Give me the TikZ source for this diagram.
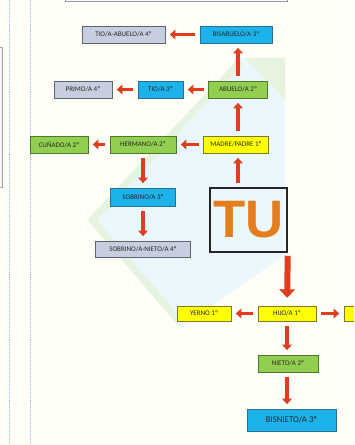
\documentclass[tikz,border=0pt]{standalone}
\usepackage{fontspec}
\usepackage{xcolor}
\usepackage{tikz}
\usetikzlibrary{arrows.meta,positioning}

\newfontfamily\boxfont{Carlito}
\newfontfamily\tufont{Liberation Sans}

\definecolor{grisfill}{HTML}{C6CEE0}
\definecolor{grisline}{HTML}{5E6470}
\definecolor{azulfill}{HTML}{1CB2EA}
\definecolor{azulline}{HTML}{2A6E96}
\definecolor{verdefill}{HTML}{92CF50}
\definecolor{verdeline}{HTML}{4C7A26}
\definecolor{amarfill}{HTML}{FFFF00}
\definecolor{amarline}{HTML}{7C7A2A}
\definecolor{flecha}{HTML}{E03C1E}
\definecolor{tunaranja}{HTML}{E67D1C}
\definecolor{wmcyan}{HTML}{EAF7FC}
\definecolor{wmverde}{HTML}{E6F4DF}
\definecolor{puntos}{HTML}{9DB9D8}

\begin{document}
\begin{tikzpicture}[
x=0.05cm, y=-0.05cm,
box/.style={draw, line width=0.7pt, inner sep=0pt, minimum height=8.5mm, align=center, font=\boxfont\fontsize{10}{11}\selectfont, text=black!85},
gris/.style={box, fill=grisfill, draw=grisline},
azul/.style={box, fill=azulfill, draw=azulline},
verde/.style={box, fill=verdefill, draw=verdeline},
amar/.style={box, fill=amarfill, draw=amarline},
arr/.style={-{Triangle[width=14pt,length=8pt]}, line width=5pt, draw=flecha, fill=flecha, shorten <=2.3mm, shorten >=2.3mm},
bigarr/.style={-{Triangle[width=22pt,length=12pt]}, line width=8.5pt, draw=flecha, fill=flecha, shorten <=1.5mm, shorten >=4mm}
]
\useasboundingbox (0,0) rectangle (354,445);
\clip (0,0) rectangle (354,445);
\fill[white!97!yellow] (0,0) rectangle (354,445);

% page marks
\draw[puntos, dotted, line width=0.8pt] (9,0) -- (9,445);
\draw[puntos, dotted, line width=0.8pt] (30,0) -- (30,445);
\draw[gray!70, fill=gray!8] (-5,47) rectangle (2,187);
\draw[gray!80, fill=gray!4] (65,-5) rectangle (287,1);

% watermark
\fill[wmcyan] (88,220) -- (240,58) -- (285,58) -- (285,255) -- (180,328) -- cycle;
\draw[wmverde, line width=10pt, line join=round] (240,62) -- (92,220) -- (180,322);
\fill[wmverde] (245,58) -- (285,58) -- (285,100) -- cycle;

% boxes
\node[gris, minimum width=41.5mm] (tioabuelo) at (123.5,34.5) {TIO/A-ABUELO/A 4º};
\node[azul, minimum width=36mm] (bisabuelo) at (236,34.5) {BISABUELO/A 3º};
\node[gris, minimum width=29mm] (primo) at (83,89.5) {PRIMO/A 4º};
\node[azul, minimum width=22.5mm] (tio) at (160.5,89.5) {TIO/A 3º};
\node[verde, minimum width=29.5mm] (abuelo) at (238,89.5) {ABUELO/A 2º};
\node[verde, minimum width=29mm] (cunado) at (59,144.5) {CUÑADO/A 2º};
\node[verde, minimum width=33mm] (hermano) at (143,144.5) {HERMANO/A 2º};
\node[amar, minimum width=32.5mm] (madre) at (236,144.5) {MADRE/PADRE 1º};
\node[azul, minimum width=32.5mm, minimum height=9mm] (sobrino) at (143,197) {SOBRINO/A 3º};
\node[gris, minimum width=47.5mm, minimum height=8mm] (sobnieto) at (143,249) {SOBRINO/A-NIETO/A 4º};
\node[draw=black!85, line width=2.2pt, minimum width=38.5mm, minimum height=32mm, inner sep=0pt,
      font=\tufont\bfseries\fontsize{75}{75}\selectfont, text=tunaranja] (tu) at (248.5,220) {TU};
\node[amar, minimum width=27mm, minimum height=7.5mm] (yerno) at (204,313.5) {YERNO 1º};
\node[amar, minimum width=29mm, minimum height=7.5mm] (hijo) at (287,313.5) {HIJO/A 1º};
\node[amar, minimum width=29mm, minimum height=7.5mm] (nuera) at (373,313.5) {};
\node[verde, minimum width=30mm] (nieto) at (288,363.5) {NIETO/A 2º};
\node[azul, minimum width=44.5mm, minimum height=11mm, font=\boxfont\fontsize{12.5}{14}\selectfont] (bisnieto) at (291.5,420) {BISNIETO/A 3º};

% arrows
\draw[arr] (abuelo.north) -- (abuelo.north |- bisabuelo.south);
\draw[arr] (bisabuelo) -- (tioabuelo);
\draw[arr] (abuelo) -- (tio);
\draw[arr] (tio) -- (primo);
\draw[arr] (madre.north -| abuelo) -- (abuelo.south);
\draw[arr] (madre) -- (hermano);
\draw[arr] (hermano) -- (cunado);
\draw[arr] (hermano) -- (sobrino);
\draw[arr] (sobrino) -- (sobnieto);
\draw[arr] (tu.north -| abuelo) -- (madre.south -| abuelo);
\draw[bigarr] (tu.south east) -- (hijo.north);
\draw[arr] (hijo) -- (yerno);
\draw[arr] (hijo) -- (nuera);
\draw[arr] (hijo.south) -- (hijo.south |- nieto.north);
\draw[arr] (hijo.south |- nieto.south) -- (hijo.south |- bisnieto.north);
\end{tikzpicture}
\end{document}
